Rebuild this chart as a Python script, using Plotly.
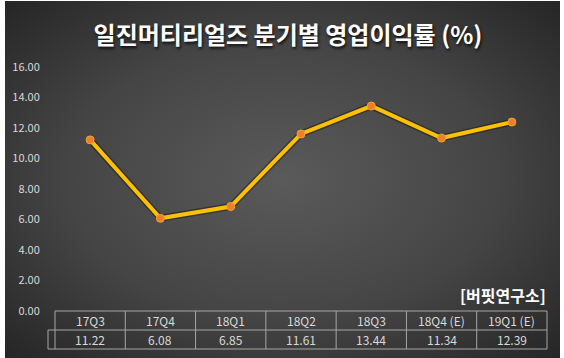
import base64
import plotly.graph_objects as go

categories = ["17Q3", "17Q4", "18Q1", "18Q2", "18Q3", "18Q4 (E)", "19Q1 (E)"]
values = [11.22, 6.08, 6.85, 11.61, 13.44, 11.34, 12.39]
value_labels = ["11.22", "6.08", "6.85", "11.61", "13.44", "11.34", "12.39"]
title_text = "일진머티리얼즈 분기별 영업이익률 (%)"
source_text = "[버핏연구소]"

W, H = 564, 358
L, R, T, B = 55, 17, 67, 47
PW, PH = W - L - R, H - T - B

def px(x):
    return (x - L) / PW

def py(y):
    return (H - B - y) / PH

svg = f'''<svg xmlns="http://www.w3.org/2000/svg" width="555" height="357" viewBox="0 0 555 357">
<defs><radialGradient id="g" cx="50%" cy="50%" r="70%">
<stop offset="0%" stop-color="#5a5a5a"/><stop offset="55%" stop-color="#454545"/><stop offset="100%" stop-color="#262626"/>
</radialGradient></defs><rect width="555" height="357" fill="url(#g)"/></svg>'''
src = "data:image/svg+xml;base64," + base64.b64encode(svg.encode()).decode()

fig = go.Figure()
fig.add_trace(go.Scatter(x=list(range(len(categories))), y=values, mode="lines",
                         line=dict(color="rgba(0,0,0,0.35)", width=7),
                         hoverinfo="skip", showlegend=False))
fig.add_trace(go.Scatter(x=list(range(len(categories))), y=values, mode="lines+markers",
                         line=dict(color="#FFC000", width=4),
                         marker=dict(color="#ED7D31", size=8, line=dict(color="#F5A623", width=1)),
                         showlegend=False))

shapes = []
lc = dict(color="#a6a6a6", width=1)
n = len(categories)
row1_top, row_mid, row_bot = 311, 330, 349
x_left, x_right = 55, 547
stub = 48
colw = (x_right - x_left) / n
shapes.append(dict(type="line", xref="paper", yref="paper", x0=px(x_left), x1=px(x_right),
                   y0=py(row1_top), y1=py(row1_top), line=lc))
for yy in (row_mid, row_bot):
    shapes.append(dict(type="line", xref="paper", yref="paper", x0=px(stub), x1=px(x_right),
                       y0=py(yy), y1=py(yy), line=lc))
for k in range(n + 1):
    xx = x_left + k * colw
    shapes.append(dict(type="line", xref="paper", yref="paper", x0=px(xx), x1=px(xx),
                       y0=py(row1_top), y1=py(row_bot), line=lc))
shapes.append(dict(type="line", xref="paper", yref="paper", x0=px(stub), x1=px(stub),
                   y0=py(row_mid), y1=py(row_bot), line=lc))

annotations = []
font_cell = dict(family="Noto Sans CJK KR, Noto Sans", size=12, color="#d9d9d9")
for i, (c, v) in enumerate(zip(categories, value_labels)):
    cx = px(x_left + (i + 0.5) * colw)
    annotations.append(dict(text=c, x=cx, y=py((row1_top + row_mid) / 2), xref="paper", yref="paper",
                            showarrow=False, font=font_cell, xanchor="center", yanchor="middle"))
    annotations.append(dict(text=v, x=cx, y=py((row_mid + row_bot) / 2), xref="paper", yref="paper",
                            showarrow=False, font=font_cell, xanchor="center", yanchor="middle"))
annotations.append(dict(text=f"<b>{source_text}</b>", x=px(548), y=py(295), xref="paper", yref="paper",
                        showarrow=False, xanchor="right", yanchor="middle",
                        font=dict(family="Noto Sans CJK KR", size=16, color="#ffffff")))

fig.update_layout(
    width=W, height=H,
    margin=dict(l=L, r=R, t=T, b=B),
    paper_bgcolor="#ffffff",
    plot_bgcolor="rgba(0,0,0,0)",
    title=dict(text=f"<b>{title_text}</b>", x=288 / W, xanchor="center", y=1 - 36 / H, yanchor="middle",
               font=dict(family="Noto Sans CJK KR", size=24, color="#ffffff",
                         shadow="1px 2px 3px rgba(0,0,0,0.8)")),
    images=[dict(source=src, xref="paper", yref="paper", x=px(5), y=py(1), sizex=555 / PW, sizey=357 / PH,
                 xanchor="left", yanchor="top", sizing="stretch", layer="below")],
    shapes=shapes,
    annotations=annotations,
    xaxis=dict(range=[-0.5, n - 0.5], showgrid=False, zeroline=False, showticklabels=False,
               showline=False, fixedrange=True),
    yaxis=dict(range=[0, 16], dtick=2, tickformat=".2f", showgrid=False, zeroline=False, showline=False,
               ticks="outside", ticklen=12, tickcolor="rgba(0,0,0,0)",
               tickfont=dict(family="Noto Sans CJK KR, Noto Sans", size=11, color="#d9d9d9")),
)

fig.write_html("out.html", config={"displayModeBar": False},
               post_script="document.body.style.margin='0';document.body.style.overflow='hidden';")
